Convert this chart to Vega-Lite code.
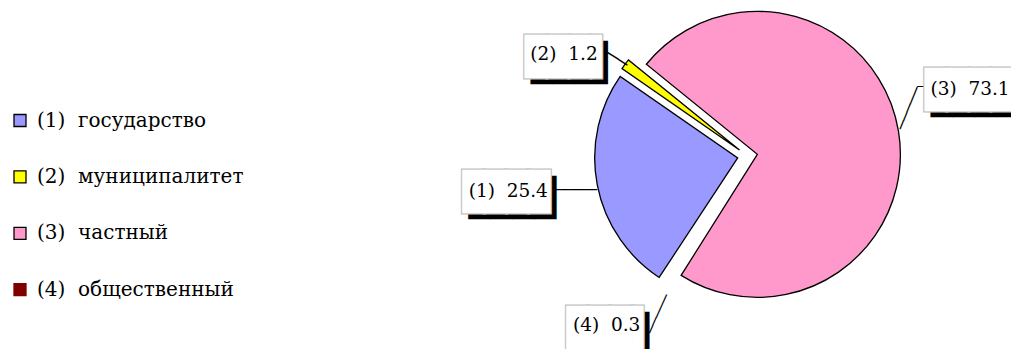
{
  "$schema": "https://vega.github.io/schema/vega-lite/v6.json",
  "width": 295,
  "height": 304,
  "autosize": {"type": "none"},
  "padding": {"left": 600, "top": 4, "right": 116, "bottom": 41},
  "background": "white",
  "config": {"view": {"stroke": null}},
  "data": {"values": [
    {"id": 1, "cat": "(1) государство", "value": 25.4, "label": "(1)\u00a0 25.4"},
    {"id": 2, "cat": "(2) муниципалитет", "value": 1.2, "label": "(2)\u00a0 1.2"},
    {"id": 3, "cat": "(3) частный", "value": 73.1, "label": "(3)\u00a0 73.1"},
    {"id": 4, "cat": "(4) общественный", "value": 0.3, "label": "(4)\u00a0 0.3"}
  ]},
  "encoding": {
    "theta": {"field": "value", "type": "quantitative", "stack": true, "scale": {"domain": [0, 100], "range": [3.7228, 10.006]}},
    "order": {"field": "id", "type": "quantitative"},
    "detail": {"field": "cat", "type": "nominal"}
  },
  "layer": [
    {"mark": {"type": "arc", "radius": 143, "stroke": "#000000", "strokeWidth": 1.3, "xOffset": -9.82, "yOffset": 1.91},
     "encoding": {
       "color": {"field": "cat", "type": "nominal",
         "scale": {"domain": ["(1) государство", "(2) муниципалитет", "(3) частный", "(4) общественный"], "range": ["#9999FF", "#FFFF00", "#FF99CC", "#800000"]},
         "legend": {"title": null, "orient": "none", "legendX": -590, "legendY": 106.5, "symbolType": "square", "symbolSize": 144, "symbolStrokeColor": "#000000", "symbolStrokeWidth": 1.3, "symbolOpacity": 1, "labelFont": "DejaVu Serif", "labelFontSize": 20, "labelColor": "#000000", "rowPadding": 36.4, "labelOffset": 7, "padding": 0, "labelLimit": 400, "labelExpr": "replace(datum.label, ') ', ')\u00a0 ')",
           "encode": {"symbols": {"update": {"stroke": [{"test": "indexof(datum.label, '(4)') === 0", "value": "#800000"}, {"value": "#000000"}]}}}}},
       "opacity": {"condition": {"test": "datum.id === 1", "value": 1}, "value": 0}}},
    {"mark": {"type": "arc", "radius": 143, "stroke": "#000000", "strokeWidth": 1.3, "xOffset": -8.0, "yOffset": -6.0},
     "encoding": {
       "color": {"field": "cat", "type": "nominal"},
       "opacity": {"condition": {"test": "datum.id === 2", "value": 1}, "value": 0}}},
    {"mark": {"type": "arc", "radius": 143, "stroke": "#000000", "strokeWidth": 1.3, "xOffset": 9.87, "yOffset": -1.63},
     "encoding": {
       "color": {"field": "cat", "type": "nominal"},
       "opacity": {"condition": {"test": "datum.id === 3", "value": 1}, "value": 0}}},

    {"mark": {"type": "text", "radius": 240, "font": "DejaVu Sans Mono", "fontSize": 15.3, "align": "center", "baseline": "middle", "dx": 62.1, "dy": -12.2, "fill": "#000000"},
     "encoding": {"text": {"condition": {"test": "datum.id === 1", "value": "─────"}, "value": ""}}},
    {"mark": {"type": "text", "radius": 240, "font": "DejaVu Sans Mono", "fontSize": 36.5, "align": "left", "baseline": "alphabetic", "dx": -43.2, "dy": 8.4, "fill": "#000000"},
     "encoding": {"text": {"condition": {"test": "datum.id === 1", "value": "████"}, "value": ""}}},
    {"mark": {"type": "text", "radius": 240, "font": "DejaVu Sans Mono", "fontSize": 36.5, "align": "left", "baseline": "alphabetic", "dx": -49.2, "dy": 2.4, "fill": "#ffffff", "stroke": "#c0c0c0", "strokeWidth": 2.5},
     "encoding": {"text": {"condition": {"test": "datum.id === 1", "value": "████"}, "value": ""}}},
    {"mark": {"type": "text", "radius": 240, "font": "DejaVu Sans Mono", "fontSize": 36.5, "align": "left", "baseline": "alphabetic", "dx": -49.2, "dy": 2.4, "fill": "#ffffff"},
     "encoding": {"text": {"condition": {"test": "datum.id === 1", "value": "████"}, "value": ""}}},
    {"mark": {"type": "text", "radius": 240, "font": "DejaVu Serif", "fontSize": 18.5, "align": "center", "baseline": "middle", "dx": -3.6, "dy": -11.0, "fill": "#000000"},
     "encoding": {"text": {"condition": {"test": "datum.id === 1", "field": "label", "type": "nominal"}, "value": ""}}},

    {"mark": {"type": "text", "radius": 210, "font": "DejaVu Sans Mono", "fontSize": 15.8, "align": "center", "baseline": "middle", "angle": 32.7, "dx": 44.83, "dy": 4.24, "fill": "#000000"},
     "encoding": {"text": {"condition": {"test": "datum.id === 2", "value": "───"}, "value": ""}}},
    {"mark": {"type": "text", "radius": 210, "font": "DejaVu Sans Mono", "fontSize": 36.5, "align": "left", "baseline": "alphabetic", "dx": -48.6, "dy": 44.8, "fill": "#000000"},
     "encoding": {"text": {"condition": {"test": "datum.id === 2", "value": "███▌"}, "value": ""}}},
    {"mark": {"type": "text", "radius": 210, "font": "DejaVu Sans Mono", "fontSize": 36.5, "align": "left", "baseline": "alphabetic", "dx": -54.6, "dy": 38.8, "fill": "#ffffff", "stroke": "#c0c0c0", "strokeWidth": 2.5},
     "encoding": {"text": {"condition": {"test": "datum.id === 2", "value": "███▌"}, "value": ""}}},
    {"mark": {"type": "text", "radius": 210, "font": "DejaVu Sans Mono", "fontSize": 36.5, "align": "left", "baseline": "alphabetic", "dx": -54.6, "dy": 38.8, "fill": "#ffffff"},
     "encoding": {"text": {"condition": {"test": "datum.id === 2", "value": "███▌"}, "value": ""}}},
    {"mark": {"type": "text", "radius": 210, "font": "DejaVu Serif", "fontSize": 18.5, "align": "center", "baseline": "middle", "dx": -15.6, "dy": 24.4, "fill": "#000000"},
     "encoding": {"text": {"condition": {"test": "datum.id === 2", "field": "label", "type": "nominal"}, "value": ""}}},

    {"mark": {"type": "text", "radius": 230, "font": "DejaVu Sans Mono", "fontSize": 15, "align": "center", "baseline": "middle", "angle": -67.5, "dx": -15.55, "dy": -64.72, "fill": "#000000"},
     "encoding": {"text": {"condition": {"test": "datum.id === 3", "value": "─────"}, "value": ""}}},
    {"mark": {"type": "text", "radius": 230, "font": "DejaVu Sans Mono", "fontSize": 13, "align": "center", "baseline": "middle", "dx": -53.2, "dy": -31.3, "fill": "#000000"},
     "encoding": {"text": {"condition": {"test": "datum.id === 3", "value": "─"}, "value": ""}}},
    {"mark": {"type": "text", "radius": 230, "font": "DejaVu Sans Mono", "fontSize": 36.5, "align": "left", "baseline": "alphabetic", "dx": -43.4, "dy": -10.7, "fill": "#000000"},
     "encoding": {"text": {"condition": {"test": "datum.id === 3", "value": "████"}, "value": ""}}},
    {"mark": {"type": "text", "radius": 230, "font": "DejaVu Sans Mono", "fontSize": 36.5, "align": "left", "baseline": "alphabetic", "dx": -49.4, "dy": -16.7, "fill": "#ffffff", "stroke": "#c0c0c0", "strokeWidth": 2.5},
     "encoding": {"text": {"condition": {"test": "datum.id === 3", "value": "████"}, "value": ""}}},
    {"mark": {"type": "text", "radius": 230, "font": "DejaVu Sans Mono", "fontSize": 36.5, "align": "left", "baseline": "alphabetic", "dx": -49.4, "dy": -16.7, "fill": "#ffffff"},
     "encoding": {"text": {"condition": {"test": "datum.id === 3", "value": "████"}, "value": ""}}},
    {"mark": {"type": "text", "radius": 230, "font": "DejaVu Serif", "fontSize": 18.5, "align": "center", "baseline": "middle", "dx": -4.4, "dy": -29.3, "fill": "#000000"},
     "encoding": {"text": {"condition": {"test": "datum.id === 3", "field": "label", "type": "nominal"}, "value": ""}}},

    {"mark": {"type": "text", "radius": 220, "font": "DejaVu Sans Mono", "fontSize": 14, "align": "center", "baseline": "middle", "angle": -65.7, "dx": 36.88, "dy": 16.5, "fill": "#000000"},
     "encoding": {"text": {"condition": {"test": "datum.id === 4", "value": "─────"}, "value": ""}}},
    {"mark": {"type": "text", "radius": 220, "font": "DejaVu Sans Mono", "fontSize": 36.5, "align": "left", "baseline": "alphabetic", "dx": -55.8, "dy": 4.7, "fill": "#000000"},
     "encoding": {"text": {"condition": {"test": "datum.id === 4", "value": "███▌"}, "value": ""}}},
    {"mark": {"type": "text", "radius": 220, "font": "DejaVu Sans Mono", "fontSize": 36.5, "align": "left", "baseline": "alphabetic", "dx": -61.8, "dy": -1.3, "fill": "#ffffff", "stroke": "#c0c0c0", "strokeWidth": 2.5},
     "encoding": {"text": {"condition": {"test": "datum.id === 4", "value": "███▌"}, "value": ""}}},
    {"mark": {"type": "text", "radius": 220, "font": "DejaVu Sans Mono", "fontSize": 36.5, "align": "left", "baseline": "alphabetic", "dx": -61.8, "dy": -1.3, "fill": "#ffffff"},
     "encoding": {"text": {"condition": {"test": "datum.id === 4", "value": "███▌"}, "value": ""}}},
    {"mark": {"type": "text", "radius": 220, "font": "DejaVu Serif", "fontSize": 18.5, "align": "center", "baseline": "middle", "dx": -21.8, "dy": -15.7, "fill": "#000000"},
     "encoding": {"text": {"condition": {"test": "datum.id === 4", "field": "label", "type": "nominal"}, "value": ""}}}
  ]
}
